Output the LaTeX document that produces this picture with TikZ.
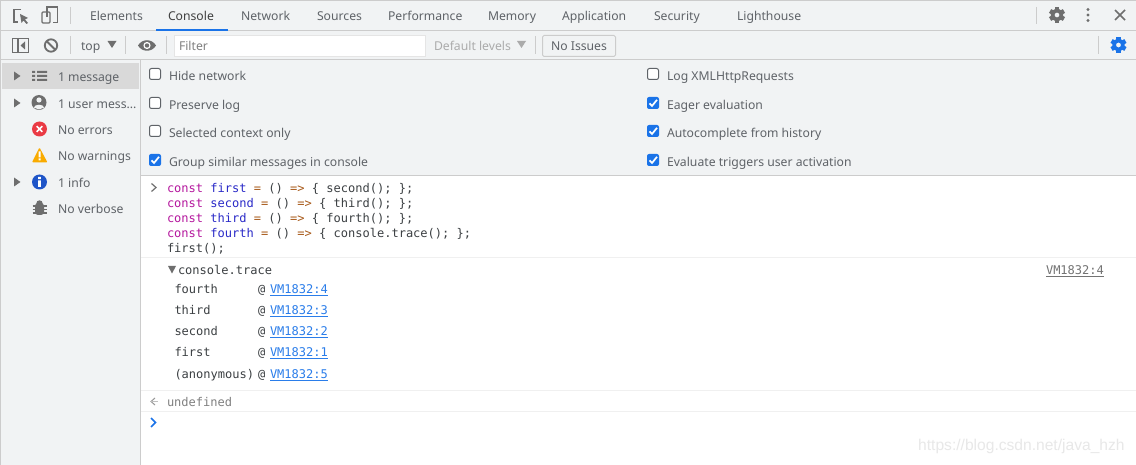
\documentclass[tikz,border=0pt]{standalone}
\usepackage{fontspec}
\setmainfont{Noto Sans}
\newfontfamily\monof{DejaVu Sans Mono}
\newfontfamily\wmf{Liberation Sans}
\definecolor{barbg}{HTML}{F1F3F4}
\definecolor{edge}{HTML}{CCCCCC}
\definecolor{sep}{HTML}{F0F0F0}
\definecolor{txt}{HTML}{5F6368}
\definecolor{icon}{HTML}{6E6E6E}
\definecolor{blueui}{HTML}{1A73E8}
\definecolor{kw}{HTML}{B5179E}
\definecolor{vname}{HTML}{2A2AC8}
\definecolor{oper}{HTML}{A85A1A}
\definecolor{code}{HTML}{3C4043}
\definecolor{linkc}{HTML}{2A7DEA}
\definecolor{errc}{HTML}{EA3A44}
\definecolor{warnc}{HTML}{F9AB00}
\definecolor{infoc}{HTML}{1F55C8}
\tikzset{
  x=1pt,y=-1pt,
  ui/.style={anchor=mid west,inner sep=0pt,outer sep=0pt,yshift=-2pt,text=txt,font=\fontsize{12.2}{14}\selectfont},
  tab/.style={ui,text=#1},
  tab/.default=txt,
  mono/.style={anchor=mid west,inner sep=0pt,outer sep=0pt,yshift=-2pt,text=code,font=\monof\fontsize{12.03}{14}\selectfont},
  vsep/.style={draw=edge,line width=1pt},
  hsep/.style={draw=sep,line width=1pt},
}
\newcommand{\gearic}[3]{%
  \begin{scope}[shift={(#1,#2)}]
    \foreach \a in {0,60,...,300}{\fill[#3,rotate=\a] (-2.2,-8) rectangle (2.2,-4);}
    \fill[#3,even odd rule] (0,0) circle (6.2) (0,0) circle (2.5);
  \end{scope}}
\newcommand{\cbox}[2]{\draw[draw=txt,line width=1pt,fill=white,rounded corners=2pt] (#1-5.5,#2-5.5) rectangle (#1+5.5,#2+5.5);}
\newcommand{\cboxon}[2]{\fill[blueui,rounded corners=2pt] (#1-6,#2-6) rectangle (#1+6,#2+6);
  \draw[white,line width=1.7pt] (#1-3.5,#2+.3) -- (#1-1,#2+3) -- (#1+4,#2-3.2);}
\newcommand{\rarrow}[2]{\fill[icon] (#1-3,#2-4.5) -- (#1+3.5,#2) -- (#1-3,#2+4.5) -- cycle;}
\begin{document}
\begin{tikzpicture}
\useasboundingbox (0,0) rectangle (1136,465);
\fill[white] (0,0) rectangle (1136,465);
% bars
\fill[barbg] (0,0) rectangle (1136,175);
\fill[barbg] (0,60) rectangle (140,465);
\fill[white] (141,176) rectangle (1136,465);
\draw[edge,line width=1pt] (0,.5) -- (1136,.5);
\draw[edge,line width=1pt] (0,30.5) -- (1136,30.5);
\draw[edge,line width=1pt] (0,59.5) -- (1136,59.5);
\draw[edge,line width=1pt] (140.5,60) -- (140.5,465);
\draw[edge,line width=1pt] (141,175.5) -- (1136,175.5);
\draw[edge,line width=1pt] (.5,0) -- (.5,465);
% top tabs
\node[tab] (tElements) at (90,16) {Elements};
\node[tab=black!75] (tConsole) at (168,16) {Console};
\node[tab] (tNetwork) at (241,16) {Network};
\node[tab] (tSources) at (317,16) {Sources};
\node[tab] (tPerf) at (388,16) {Performance};
\node[tab] (tMemory) at (488,16) {Memory};
\node[tab] (tApp) at (562,16) {Application};
\node[tab] (tSec) at (654,16) {Security};
\node[tab] (tLight) at (737,16) {Lighthouse};
\fill[blueui] (156,29) rectangle (228,31);
% inspect icon
\draw[icon,line width=1.3pt] (21,9.5) -- (14,9.5) -- (14,22) -- (18,22);
\fill[icon] (20,14) -- (28,18) -- (25,19.5) -- (28,23) -- (26.5,24) -- (23.5,20.5) -- (21.5,23) -- cycle;
% device icon
\draw[icon,line width=1.3pt] (47,17) -- (47,7) -- (57.5,7) -- (57.5,22.5) -- (53,22.5);
\draw[icon,line width=1.3pt,rounded corners=1pt] (42,12) rectangle (50,23);
\draw[vsep] (70.5,7) -- (70.5,24);
\draw[vsep] (1036.5,7) -- (1036.5,24);
\gearic{1057}{15}{icon}
\fill[icon] (1088,9.5) circle (1.7) (1088,15) circle (1.7) (1088,20.5) circle (1.7);
\draw[icon,line width=1.7pt] (1115,10) -- (1125,20) (1125,10) -- (1115,20);
% second toolbar
\draw[icon,line width=1.3pt] (12.5,38.5) rectangle (28.5,52.5);
\draw[icon,line width=1.3pt] (18,38.5) -- (18,52.5);
\fill[icon] (25,41.5) -- (25,49.5) -- (20.5,45.5) -- cycle;
\draw[icon,line width=1.8pt] (51,45.5) circle (6.2);
\draw[icon,line width=1.8pt] (46.7,41.2) -- (55.3,49.8);
\draw[vsep] (70.5,36) -- (70.5,54);
\node[ui] (ctxTop) at (81,45.5) {top};
\fill[icon] (107.5,41) -- (116.5,41) -- (112,48) -- cycle;
\draw[vsep] (125.5,36) -- (125.5,54);
\fill[icon] (138,45.5) .. controls (142,38.5) and (152,38.5) .. (156,45.5) .. controls (152,52.5) and (142,52.5) .. (138,45.5) -- cycle;
\fill[white] (147,45.5) circle (3.6);
\fill[icon] (147,45.5) circle (2.2);
\draw[vsep] (166.5,36) -- (166.5,54);
\draw[draw=sep!70!edge,fill=white,line width=1pt] (174.5,35.5) rectangle (425.5,56.5);
\node[ui,text=black!50] (filterText) at (179,46) {Filter};
\node[ui,text=black!33] (levels) at (434,45.5) {Default levels};
\fill[black!33] (517,41) -- (526,41) -- (521.5,48) -- cycle;
\draw[vsep] (535.5,36) -- (535.5,54);
\draw[draw=edge,fill=barbg,line width=1pt,rounded corners=1.5pt] (542.5,35.5) rectangle (615.5,56.5);
\node[ui,anchor=mid] (noIssues) at (579,46) {No Issues};
\draw[vsep] (1098.5,36) -- (1098.5,54);
\gearic{1118.5}{45}{blueui}
% sidebar
\fill[black!15] (2,63) rectangle (139,89);
\rarrow{17}{76}
\rarrow{17}{103}
\rarrow{17}{182}
\fill[icon] (32,71) rectangle (35,73) (32,75) rectangle (35,77) (32,79) rectangle (35,81);
\fill[icon] (37,71) rectangle (47,73) (37,75) rectangle (47,77) (37,79) rectangle (47,81);
\fill[icon] (39,102.5) circle (7.5);
\fill[barbg] (39,100) circle (2.6);
\fill[barbg] (33.8,107.5) .. controls (35,103.8) and (43,103.8) .. (44.2,107.5) -- (39,109.5) -- cycle;
\fill[errc] (39.5,129) circle (7.5);
\draw[white,line width=1.6pt] (36.7,126.2) -- (42.3,131.8) (42.3,126.2) -- (36.7,131.8);
\fill[warnc,rounded corners=1pt] (39.5,147.5) -- (47.5,162.5) -- (32,162.5) -- cycle;
\fill[white] (38.5,151.5) rectangle (40.5,157.5) (38.5,158.5) rectangle (40.5,160.5);
\fill[infoc] (39.5,182) circle (7.5);
\fill[white] (38.2,180.5) rectangle (40.8,187) (38.2,177) rectangle (40.8,179.2);
\fill[icon,rounded corners=3pt] (35,203) rectangle (44,215);
\draw[icon,line width=1.2pt] (32.5,206) -- (46.5,206) (32.5,209.5) -- (46.5,209.5) (32.5,213) -- (46.5,213);
\fill[icon] (39.5,203.5) circle (3.2);
\node[ui] (s1) at (58,76.5) {1 message};
\node[ui] (s2) at (58,103.5) {1 user mess...};
\node[ui] (s3) at (58,129.5) {No errors};
\node[ui] (s4) at (58,155.5) {No warnings};
\node[ui] (s5) at (58,182.5) {1 info};
\node[ui] (s6) at (58,208.5) {No verbose};
% settings
\cbox{155}{74}\cbox{155}{103}\cbox{155}{131}\cboxon{155}{160}
\cbox{653}{74}\cboxon{653}{103}\cboxon{653}{131}\cboxon{653}{160}
\node[ui] (o1) at (169,75.5) {Hide network};
\node[ui] (o2) at (169,104.5) {Preserve log};
\node[ui] (o3) at (169,132.5) {Selected context only};
\node[ui] (o4) at (169,161.5) {Group similar messages in console};
\node[ui] (o5) at (667,75.5) {Log XMLHttpRequests};
\node[ui] (o6) at (667,104.5) {Eager evaluation};
\node[ui] (o7) at (667,132.5) {Autocomplete from history};
\node[ui] (o8) at (667,161.5) {Evaluate triggers user activation};
% code
\draw[icon,line width=1.2pt] (151.5,183.5) -- (156,187.5) -- (151.5,191.5);
\node[mono] (c1) at (167,188) {\textcolor{kw}{const} \textcolor{vname}{first} \textcolor{oper}{=} () \textcolor{oper}{=>} \{ second(); \};};
\node[mono] (c2) at (167,203) {\textcolor{kw}{const} \textcolor{vname}{second} \textcolor{oper}{=} () \textcolor{oper}{=>} \{ third(); \};};
\node[mono] (c3) at (167,218) {\textcolor{kw}{const} \textcolor{vname}{third} \textcolor{oper}{=} () \textcolor{oper}{=>} \{ fourth(); \};};
\node[mono] (c4) at (167,233) {\textcolor{kw}{const} \textcolor{vname}{fourth} \textcolor{oper}{=} () \textcolor{oper}{=>} \{ console.trace(); \};};
\node[mono] (c5) at (167,248) {first();};
\draw[hsep] (141,257.5) -- (1136,257.5);
\fill[icon] (168,266) -- (176,266) -- (172,273.5) -- cycle;
\node[mono] (tr) at (178,270) {console.trace};
\node[mono,text=black!55] (trLink) at (1046,270) {\underline{VM1832:4}};
\node[mono] (f1) at (174.5,289) {fourth};
\node[mono] (f2) at (174.5,310) {third};
\node[mono] (f3) at (174.5,331) {second};
\node[mono] (f4) at (174.5,352) {first};
\node[mono] (f5) at (174.5,374) {(anonymous)};
\foreach \y/\n in {289/4,310/3,331/2,352/1,374/5}{
  \node[mono] at (258,\y) {@};
  \node[mono,text=linkc] at (270,\y) {\underline{VM1832:\n}};
}
\draw[hsep] (141,390.5) -- (1136,390.5);
\draw[black!40,line width=1pt] (155,398) -- (151,401.5) -- (155,405);
\draw[black!25,line width=1pt] (151,401.5) -- (158,401.5);
\node[mono,text=black!50] (undef) at (167,402) {undefined};
\draw[hsep] (141,411.5) -- (1136,411.5);
\draw[blueui,line width=1.6pt] (151,418) -- (155.5,422.5) -- (151,427);
% watermark
\node[anchor=mid west,inner sep=0pt,yshift=-1pt,text=black!9,font=\wmf\fontsize{15.6}{18}\selectfont] (wm) at (918,447) {https://blog.csdn.net/java\_hzh};
\end{tikzpicture}
\end{document}
